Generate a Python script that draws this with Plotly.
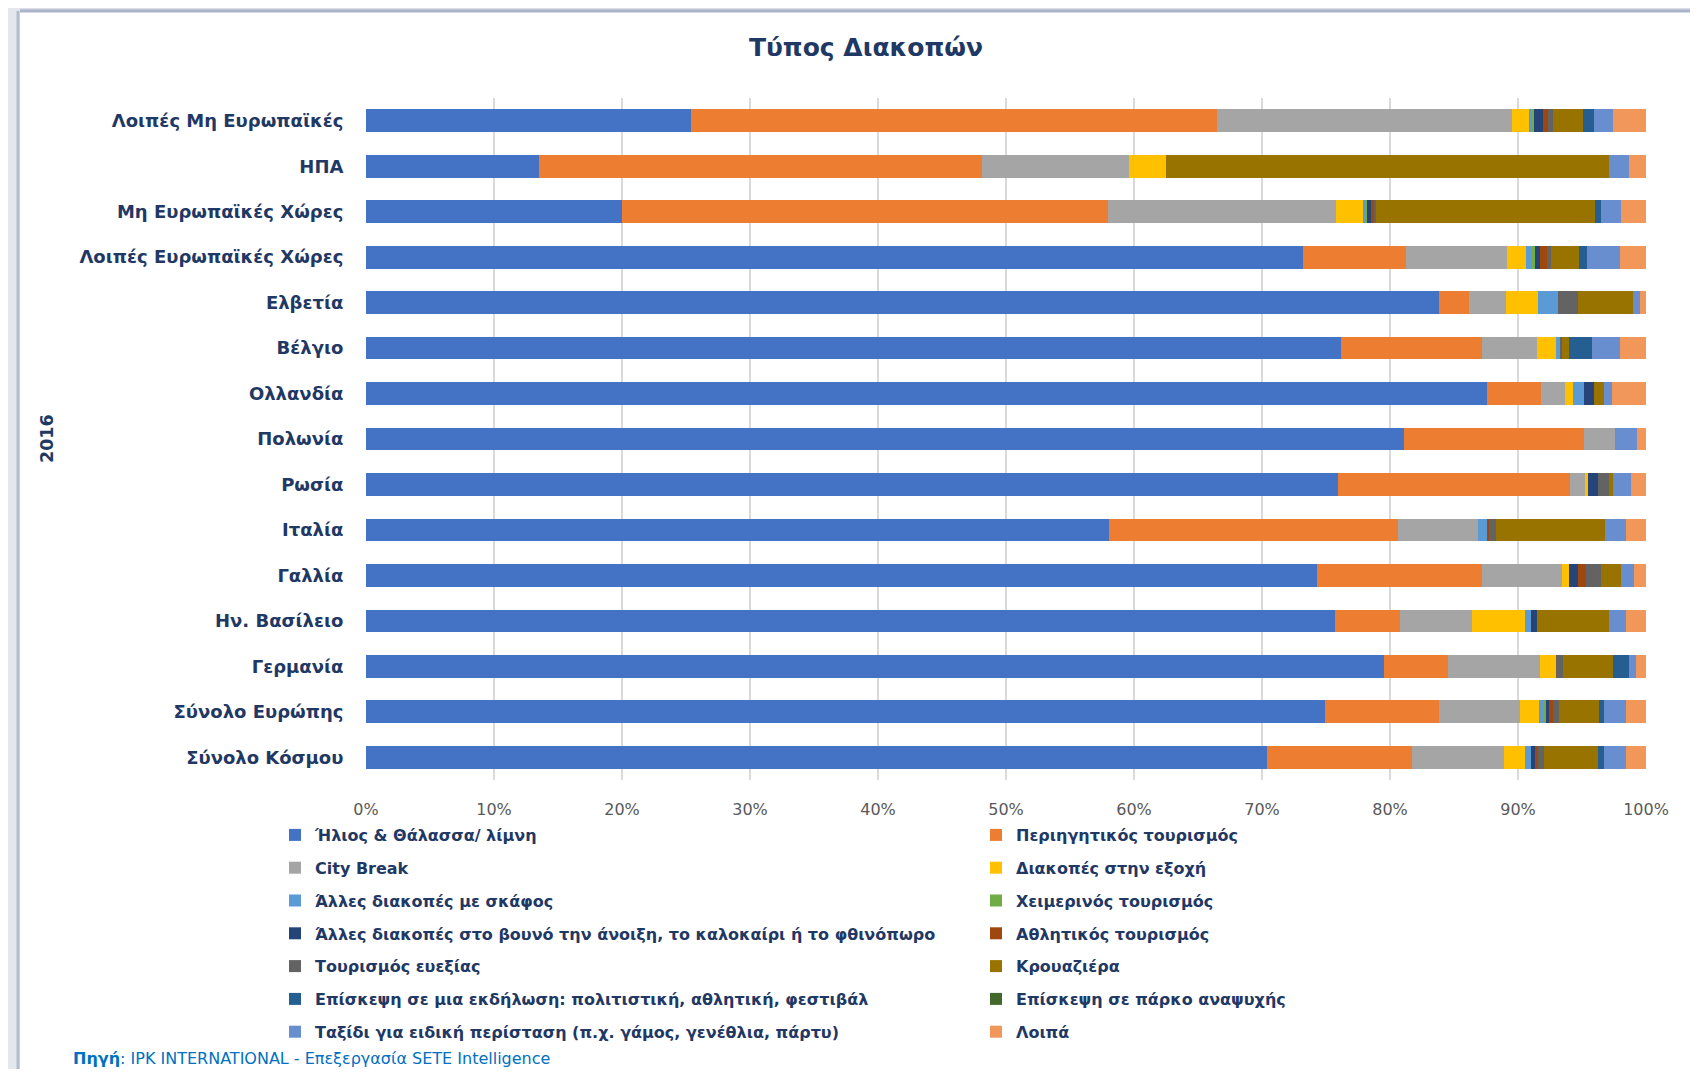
import plotly.graph_objects as go

# ── Data (percent share per holiday type) ───────────────────────────────
countries = [
    "Λοιπές Μη Ευρωπαϊκές", "ΗΠΑ", "Μη Ευρωπαϊκές Χώρες", "Λοιπές Ευρωπαϊκές Χώρες",
    "Ελβετία", "Βέλγιο", "Ολλανδία", "Πολωνία", "Ρωσία", "Ιταλία", "Γαλλία",
    "Ην. Βασίλειο", "Γερμανία", "Σύνολο Ευρώπης", "Σύνολο Κόσμου",
]

ilios = [25.4, 13.5, 20.0, 73.2, 83.85, 76.2, 87.6, 81.1, 75.9, 58.05, 74.3, 75.7, 79.55, 74.9, 70.4]
periigitikos = [41.1, 34.6, 38.0, 8.05, 2.35, 11.0, 4.2, 14.05, 18.2, 22.55, 12.9, 5.1, 4.95, 8.95, 11.35]
city_break = [23.0, 11.5, 17.8, 7.9, 2.9, 4.25, 1.9, 2.45, 1.1, 6.3, 6.2, 5.6, 7.2, 6.3, 7.15]
exochi = [1.35, 2.9, 2.1, 1.5, 2.45, 1.55, 0.6, 0, 0.25, 0, 0.6, 4.15, 1.25, 1.5, 1.65]
skafos = [0.3, 0, 0.2, 0.35, 1.6, 0.25, 0.85, 0, 0, 0.65, 0, 0.45, 0, 0.3, 0.45]
xeimerinos = [0.1, 0, 0.1, 0.3, 0, 0, 0, 0, 0, 0, 0, 0, 0, 0.2, 0]
vouno = [0.7, 0, 0.3, 0.45, 0, 0, 0.75, 0, 0.8, 0, 0.7, 0.5, 0, 0.3, 0.35]
athlitikos = [0.4, 0, 0.25, 0.5, 0, 0, 0, 0, 0, 0.2, 0.65, 0, 0, 0.25, 0.25]
euexia = [0.35, 0, 0.15, 0.35, 1.55, 0.2, 0, 0, 0.85, 0.55, 1.1, 0, 0.55, 0.5, 0.4]
krouaziera = [2.4, 34.6, 17.1, 2.2, 4.25, 0.55, 0.85, 0, 0.35, 8.5, 1.6, 5.6, 3.9, 3.1, 4.25]
ekdilosi = [0.8, 0, 0.45, 0.6, 0, 1.75, 0, 0, 0, 0, 0, 0, 1.3, 0.4, 0.45]
parko = [0, 0, 0, 0, 0, 0, 0, 0, 0, 0, 0, 0, 0, 0, 0]
eidiki = [1.55, 1.6, 1.6, 2.6, 0.55, 2.25, 0.6, 1.7, 1.35, 1.65, 1.05, 1.35, 0.5, 1.75, 1.7]
loipa = [2.55, 1.3, 1.95, 2.0, 0.5, 2.0, 2.65, 0.7, 1.2, 1.55, 0.9, 1.55, 0.8, 1.55, 1.6]

series = [
    ("Ήλιος & Θάλασσα/ λίμνη", ilios, "#4472C4"),
    ("Περιηγητικός τουρισμός", periigitikos, "#ED7D31"),
    ("City Break", city_break, "#A5A5A5"),
    ("Διακοπές στην εξοχή", exochi, "#FFC000"),
    ("Άλλες διακοπές με σκάφος", skafos, "#5B9BD5"),
    ("Χειμερινός τουρισμός", xeimerinos, "#70AD47"),
    ("Άλλες διακοπές στο βουνό την άνοιξη, το καλοκαίρι ή το φθινόπωρο", vouno, "#264478"),
    ("Αθλητικός τουρισμός", athlitikos, "#9E480E"),
    ("Τουρισμός ευεξίας", euexia, "#636363"),
    ("Κρουαζιέρα", krouaziera, "#997300"),
    ("Επίσκεψη σε μια εκδήλωση: πολιτιστική, αθλητική, φεστιβάλ", ekdilosi, "#255E91"),
    ("Επίσκεψη σε πάρκο αναψυχής", parko, "#43682B"),
    ("Ταξίδι για ειδική περίσταση (π.χ. γάμος, γενέθλια, πάρτυ)", eidiki, "#698ED0"),
    ("Λοιπά", loipa, "#F1975A"),
]

NAVY = "#1F3864"
FONT = "DejaVu Sans"

# page body has an 8px margin, so the figure is shrunk and shifted by it
OFF = 8
W, H = 1698 - 2 * OFF, 1077 - 2 * OFF
# plot area in screen pixels
L, R, T, B = 366, 1646, 98, 780


def px_x(p):
    return (p - L) / (R - L)


def px_y(p):
    return (B - p) / (B - T)


fig = go.Figure()
for name, vals, color in series:
    fig.add_trace(go.Bar(
        y=countries, x=vals, name=name, orientation="h",
        marker=dict(color=color, line=dict(width=0)),
        legendgroup=name,
        hovertemplate="%{y}: %{x:.1f}%<extra>" + name + "</extra>",
    ))

fig.update_layout(
    width=W, height=H,
    barmode="stack", bargap=0.5,
    paper_bgcolor="white", plot_bgcolor="white",
    font=dict(family=FONT, color=NAVY),
    margin=dict(l=L - OFF, r=W - (R - OFF), t=T - OFF, b=H - (B - OFF), autoexpand=False),
    title=dict(
        text="<b>Τύπος Διακοπών</b>",
        font=dict(size=25, color=NAVY, family=FONT),
        x=(866 - OFF) / W, xref="container", xanchor="center",
        y=1 - (47 - OFF) / H, yref="container", yanchor="middle",
    ),
    xaxis=dict(
        range=[0, 100], dtick=10, ticksuffix="%",
        showgrid=True, gridcolor="#D9D9D9", gridwidth=1.5,
        zeroline=False, showline=False,
        ticks="outside", ticklen=15, tickcolor="rgba(0,0,0,0)",
        tickfont=dict(size=16, color="#595959", family=FONT),
    ),
    yaxis=dict(
        autorange="reversed", showgrid=False, showline=False, zeroline=False,
        ticks="outside", ticklen=18, tickcolor="rgba(0,0,0,0)",
        tickfont=dict(size=18, color=NAVY, family=FONT, weight="bold"),
    ),
    legend=dict(
        orientation="h", traceorder="grouped",
        x=px_x(275), xanchor="left", y=px_y(818), yanchor="top",
        entrywidth=656, entrywidthmode="pixels",
        tracegroupgap=9, itemwidth=30,
        font=dict(size=16, color=NAVY, family=FONT, weight="bold"),
        bgcolor="rgba(0,0,0,0)",
    ),
    showlegend=True,
)

# axis title "2016" and source note
fig.add_annotation(
    text="<b>2016</b>", textangle=-90, showarrow=False,
    xref="paper", yref="paper", x=px_x(35), y=px_y(439),
    font=dict(size=17.5, color=NAVY, family=FONT),
)
fig.add_annotation(
    text="<b>Πηγή</b>: IPK INTERNATIONAL - Επεξεργασία SETE Intelligence",
    showarrow=False, xref="paper", yref="paper",
    x=px_x(71), y=px_y(1058), xanchor="left", yanchor="middle",
    font=dict(size=16, color="#0070C0", family=FONT),
)

# frame shading (top and left edges)
fig.add_shape(type="rect", xref="paper", yref="paper",
              x0=px_x(0), x1=px_x(1698), y0=px_y(0), y1=px_y(12),
              fillcolor="#D9DDE6", line_width=0)
fig.add_shape(type="line", xref="paper", yref="paper",
              x0=px_x(18), x1=px_x(1698), y0=px_y(11), y1=px_y(11),
              line=dict(color="#A9B4CA", width=3))
fig.add_shape(type="rect", xref="paper", yref="paper",
              x0=px_x(0), x1=px_x(20), y0=px_y(0), y1=px_y(1077),
              fillcolor="#E4E7EE", line_width=0)
fig.add_shape(type="line", xref="paper", yref="paper",
              x0=px_x(18), x1=px_x(18), y0=px_y(11), y1=px_y(1077),
              line=dict(color="#B3BDD0", width=3))

fig.write_html("out.html")
